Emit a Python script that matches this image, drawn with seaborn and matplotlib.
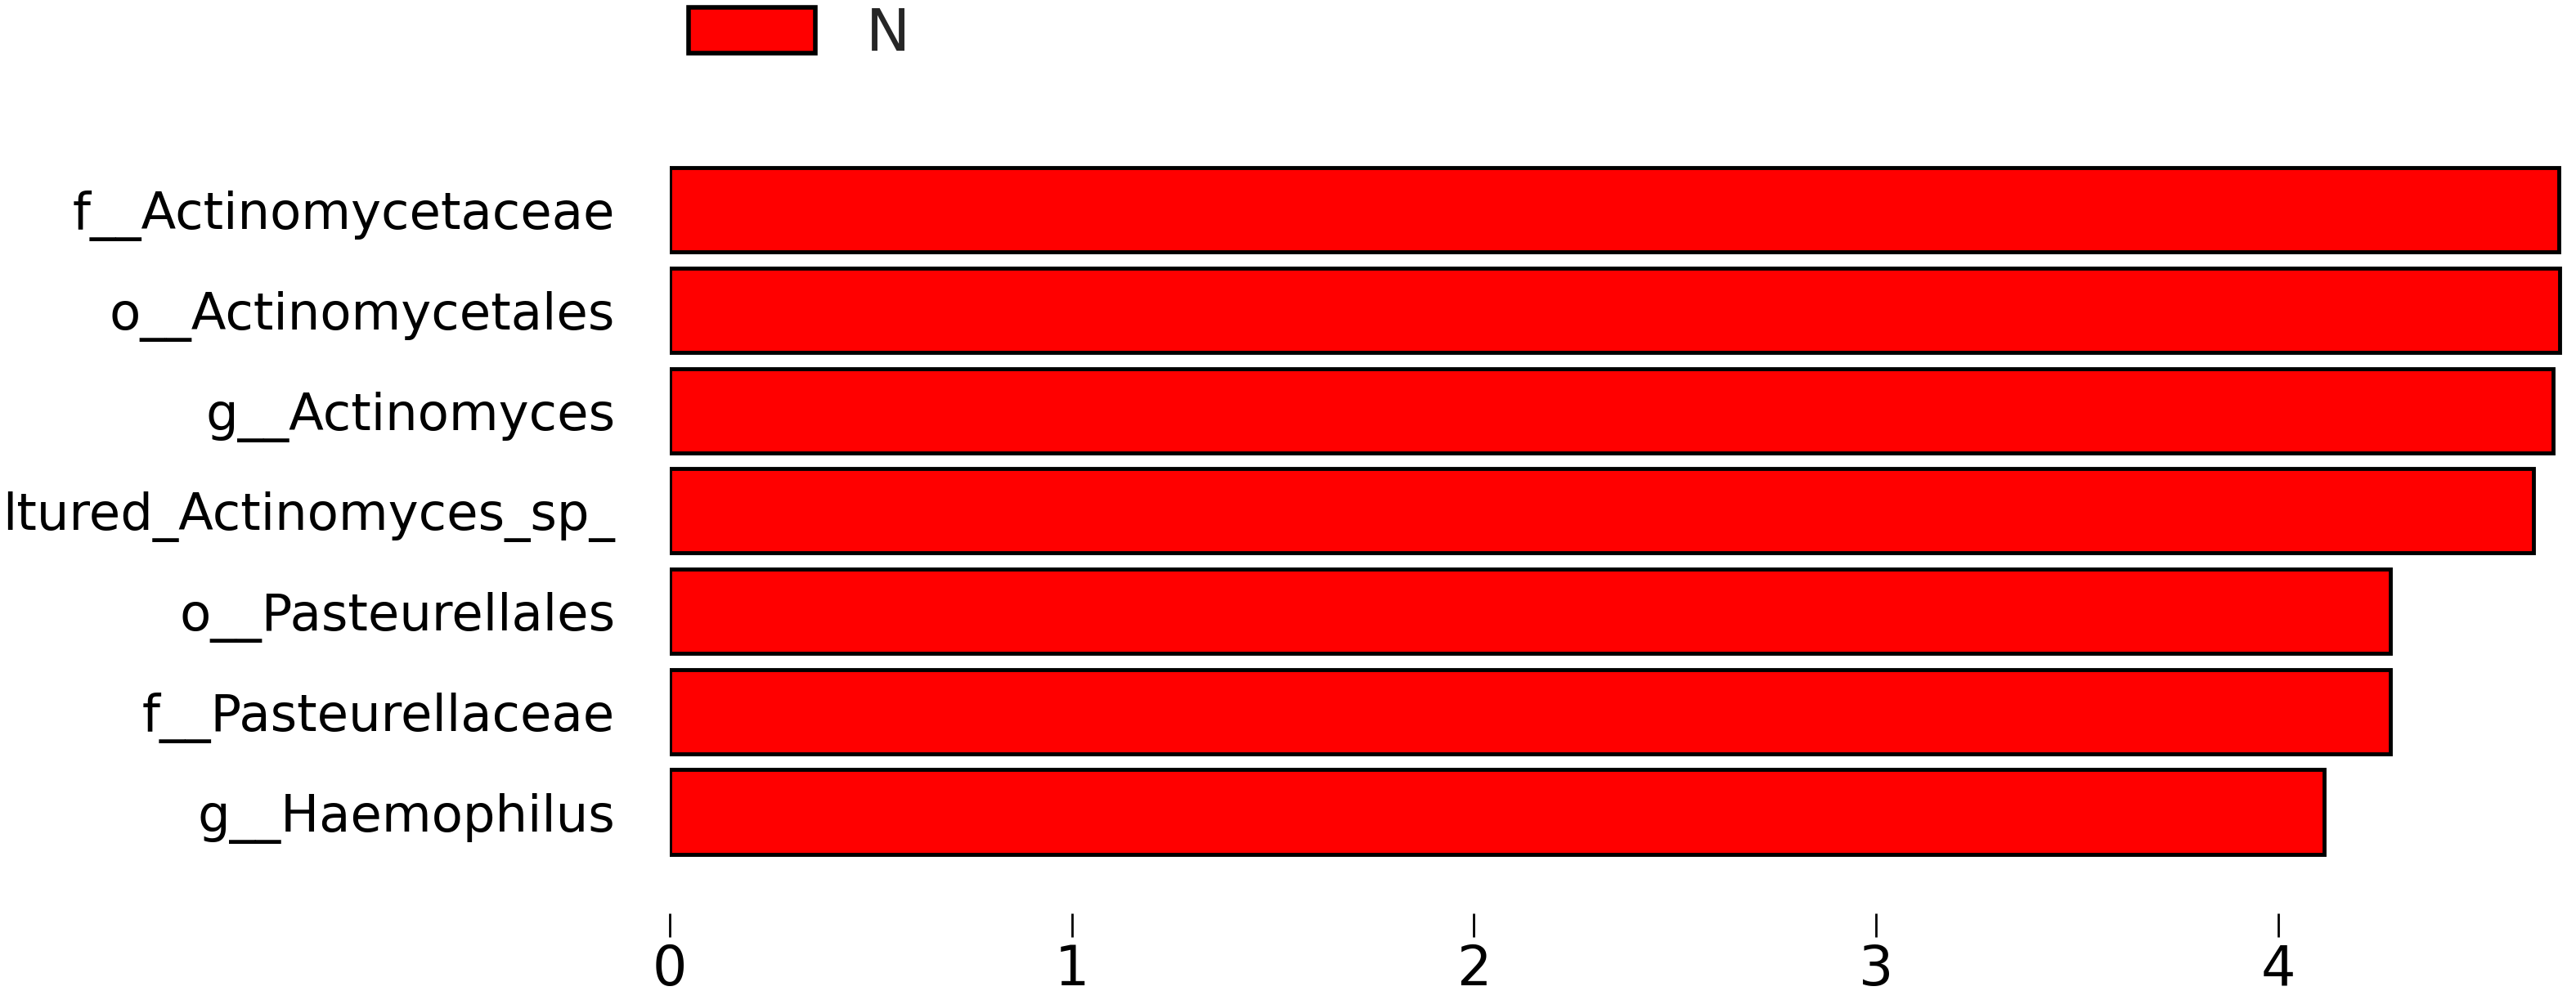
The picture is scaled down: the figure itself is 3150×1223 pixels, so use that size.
import matplotlib
matplotlib.use("Agg")
import matplotlib.pyplot as plt
import seaborn as sns
import pandas as pd

# ---- data ----
taxa = [
    "f__Actinomycetaceae",
    "o__Actinomycetales",
    "g__Actinomyces",
    "ltured_Actinomyces_sp_",
    "o__Pasteurellales",
    "f__Pasteurellaceae",
    "g__Haemophilus",
]
lda_scores = [4.697, 4.699, 4.684, 4.634, 4.279, 4.279, 4.114]
groups = ["N", "N", "N", "N", "N", "N", "N"]
x_ticks = [0, 1, 2, 3, 4]

df = pd.DataFrame({"taxon": taxa, "lda": lda_scores, "group": groups})

sns.set_theme(style="white")
plt.rcParams["font.family"] = ["DejaVu Sans"]

W, H = 3150, 1223
fig = plt.figure(figsize=(W / 100, H / 100), dpi=100)
left = 819 / W
right = 3135 / W
bottom = 1 - 1117 / H
top = 1 - 183 / H
ax = fig.add_axes([left, bottom, right - left, top - bottom])

sns.barplot(
    data=df, x="lda", y="taxon", hue="group", palette={"N": "#ff0000"},
    orient="h", dodge=False, width=0.84, edgecolor="black", linewidth=3.5,
    saturation=1, ax=ax, legend=True,
)

ax.set_xlim(0, 4.71)
ax.set_ylim(7.01, -0.6)
ax.set_xticks(x_ticks)
ax.set_xticklabels([str(t) for t in x_ticks])
ax.set_xlabel("")
ax.set_ylabel("")
for s in ax.spines.values():
    s.set_visible(False)

ax.tick_params(axis="x", which="major", bottom=True, direction="out",
               length=21, width=2, color="black", pad=5, labelsize=48,
               labelcolor="black")
ax.tick_params(axis="y", which="major", left=False, length=0, pad=48,
               labelsize=45, labelcolor="black")

handles, labels = ax.get_legend_handles_labels()
if ax.get_legend() is not None:
    ax.get_legend().remove()
leg = fig.legend(handles, labels, loc="upper left",
                 bbox_to_anchor=(842 / W, 1 - 8 / H), frameon=False, fontsize=52,
                 handlelength=2.15, handleheight=0.83, handletextpad=0.85,
                 borderpad=0, borderaxespad=0)
for h in leg.legend_handles:
    h.set_linewidth(4)

fig.savefig("out.png", dpi=100)
